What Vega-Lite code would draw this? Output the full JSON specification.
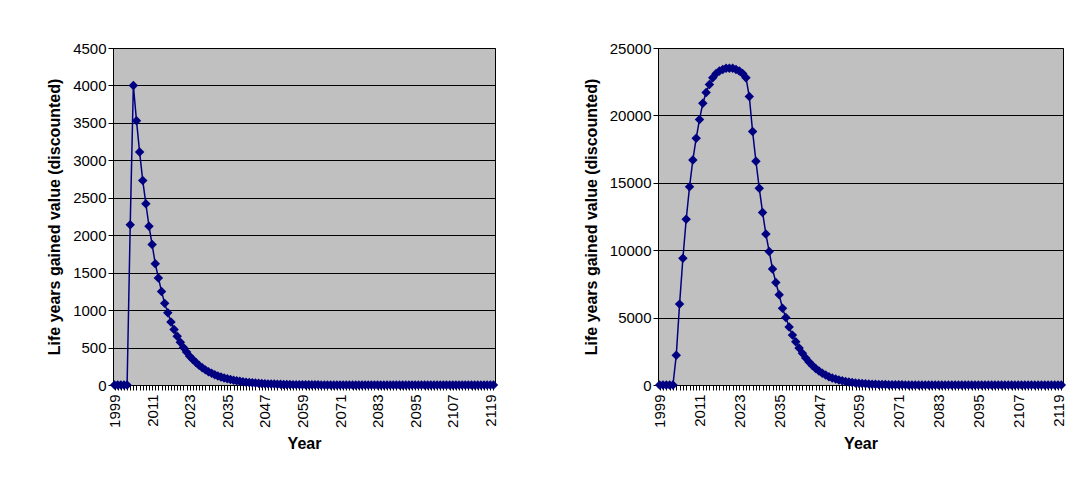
{
  "$schema": "https://vega.github.io/schema/vega-lite/v6.json",
  "background": "white",
  "padding": {"left": 46, "top": 40, "right": 4, "bottom": 20},
  "config": {
    "font": "Liberation Sans",
    "view": {"fill": "#c0c0c0", "stroke": "black", "strokeWidth": 1},
    "axis": {"labelFont": "Liberation Sans", "labelFontSize": 15, "labelColor": "black", "titleFont": "Liberation Sans", "titleFontSize": 16, "titleFontWeight": "bold", "titleColor": "black", "domainColor": "black", "tickColor": "black", "gridColor": "black", "gridOpacity": 1}
  },
  "data": {"values": [
    {"year":1999,"a":0,"b":0},{"year":2000,"a":0,"b":0},{"year":2001,"a":0,"b":0},{"year":2002,"a":0,"b":0},{"year":2003,"a":0,"b":0},
    {"year":2004,"a":2140,"b":2200},{"year":2005,"a":4000,"b":6000},{"year":2006,"a":3530,"b":9400},{"year":2007,"a":3110,"b":12300},{"year":2008,"a":2730,"b":14700},
    {"year":2009,"a":2420,"b":16700},{"year":2010,"a":2120,"b":18300},{"year":2011,"a":1875,"b":19700},{"year":2012,"a":1620,"b":20900},{"year":2013,"a":1430,"b":21700},
    {"year":2014,"a":1250,"b":22300},{"year":2015,"a":1090,"b":22800},{"year":2016,"a":965,"b":23100},{"year":2017,"a":840,"b":23300},{"year":2018,"a":740,"b":23400},
    {"year":2019,"a":650,"b":23500},{"year":2020,"a":570,"b":23500},{"year":2021,"a":500,"b":23500},{"year":2022,"a":440,"b":23400},{"year":2023,"a":385,"b":23300},
    {"year":2024,"a":340,"b":23100},{"year":2025,"a":300,"b":22800},{"year":2026,"a":262,"b":21400},{"year":2027,"a":230,"b":18800},{"year":2028,"a":202,"b":16600},
    {"year":2029,"a":178,"b":14600},{"year":2030,"a":156,"b":12800},{"year":2031,"a":137,"b":11200},{"year":2032,"a":120,"b":9900},{"year":2033,"a":106,"b":8600},
    {"year":2034,"a":93,"b":7600},{"year":2035,"a":82,"b":6700},{"year":2036,"a":72,"b":5700},{"year":2037,"a":63,"b":5000},{"year":2038,"a":56,"b":4300},
    {"year":2039,"a":49,"b":3700},{"year":2040,"a":43,"b":3200},{"year":2041,"a":38,"b":2750},{"year":2042,"a":33,"b":2350},{"year":2043,"a":29,"b":2000},
    {"year":2044,"a":26,"b":1700},{"year":2045,"a":23,"b":1450},{"year":2046,"a":20,"b":1230},{"year":2047,"a":18,"b":1040},{"year":2048,"a":15,"b":880},
    {"year":2049,"a":13,"b":740},{"year":2050,"a":12,"b":620},{"year":2051,"a":10,"b":520},{"year":2052,"a":9,"b":440},{"year":2053,"a":8,"b":370},
    {"year":2054,"a":7,"b":310},{"year":2055,"a":6,"b":260},{"year":2056,"a":5,"b":215},{"year":2057,"a":5,"b":180},{"year":2058,"a":4,"b":150},
    {"year":2059,"a":4,"b":125},{"year":2060,"a":3,"b":105},{"year":2061,"a":3,"b":88},{"year":2062,"a":2,"b":73},{"year":2063,"a":2,"b":61},
    {"year":2064,"a":2,"b":51},{"year":2065,"a":1,"b":42},{"year":2066,"a":1,"b":35},{"year":2067,"a":1,"b":29},{"year":2068,"a":1,"b":24},
    {"year":2069,"a":1,"b":20},{"year":2070,"a":0,"b":16},{"year":2071,"a":0,"b":13},{"year":2072,"a":0,"b":11},{"year":2073,"a":0,"b":9},
    {"year":2074,"a":0,"b":7},{"year":2075,"a":0,"b":6},{"year":2076,"a":0,"b":5},{"year":2077,"a":0,"b":4},{"year":2078,"a":0,"b":3},
    {"year":2079,"a":0,"b":3},{"year":2080,"a":0,"b":2},{"year":2081,"a":0,"b":2},{"year":2082,"a":0,"b":1},{"year":2083,"a":0,"b":1},
    {"year":2084,"a":0,"b":0},{"year":2085,"a":0,"b":0},{"year":2086,"a":0,"b":0},{"year":2087,"a":0,"b":0},{"year":2088,"a":0,"b":0},
    {"year":2089,"a":0,"b":0},{"year":2090,"a":0,"b":0},{"year":2091,"a":0,"b":0},{"year":2092,"a":0,"b":0},{"year":2093,"a":0,"b":0},
    {"year":2094,"a":0,"b":0},{"year":2095,"a":0,"b":0},{"year":2096,"a":0,"b":0},{"year":2097,"a":0,"b":0},{"year":2098,"a":0,"b":0},
    {"year":2099,"a":0,"b":0},{"year":2100,"a":0,"b":0},{"year":2101,"a":0,"b":0},{"year":2102,"a":0,"b":0},{"year":2103,"a":0,"b":0},
    {"year":2104,"a":0,"b":0},{"year":2105,"a":0,"b":0},{"year":2106,"a":0,"b":0},{"year":2107,"a":0,"b":0},{"year":2108,"a":0,"b":0},
    {"year":2109,"a":0,"b":0},{"year":2110,"a":0,"b":0},{"year":2111,"a":0,"b":0},{"year":2112,"a":0,"b":0},{"year":2113,"a":0,"b":0},
    {"year":2114,"a":0,"b":0},{"year":2115,"a":0,"b":0},{"year":2116,"a":0,"b":0},{"year":2117,"a":0,"b":0},{"year":2118,"a":0,"b":0},
    {"year":2119,"a":0,"b":0},{"year":2120,"a":0,"b":0}
  ]},
  "spacing": 80,
  "hconcat": [
    {
      "width": 382,
      "height": 337,
      "mark": {"type": "line", "color": "#000080", "strokeWidth": 1.5, "point": {"shape": "diamond", "size": 90, "filled": true, "color": "#000080"}},
      "encoding": {
        "x": {"field": "year", "type": "ordinal", "title": "Year", "scale": {"paddingOuter": 0.5},
          "axis": {"labelAngle": -90, "labelExpr": "datum.value % 12 == 7 ? datum.label : ''", "grid": false, "tickSize": 5, "labelPadding": 4, "titlePadding": 8}},
        "y": {"field": "a", "type": "quantitative", "title": "Life years gained value (discounted)", "scale": {"domain": [0, 4500]},
          "axis": {"values": [0,500,1000,1500,2000,2500,3000,3500,4000,4500], "format": "d", "grid": true, "tickSize": 5, "titlePadding": 10}}
      }
    },
    {
      "width": 405,
      "height": 337,
      "mark": {"type": "line", "color": "#000080", "strokeWidth": 1.5, "point": {"shape": "diamond", "size": 90, "filled": true, "color": "#000080"}},
      "encoding": {
        "x": {"field": "year", "type": "ordinal", "title": "Year", "scale": {"paddingOuter": 0.5},
          "axis": {"labelAngle": -90, "labelExpr": "datum.value % 12 == 7 ? datum.label : ''", "grid": false, "tickSize": 5, "labelPadding": 4, "titlePadding": 8}},
        "y": {"field": "b", "type": "quantitative", "title": "Life years gained value (discounted)", "scale": {"domain": [0, 25000]},
          "axis": {"values": [0,5000,10000,15000,20000,25000], "format": "d", "grid": true, "tickSize": 5, "titlePadding": 10}}
      }
    }
  ]
}
